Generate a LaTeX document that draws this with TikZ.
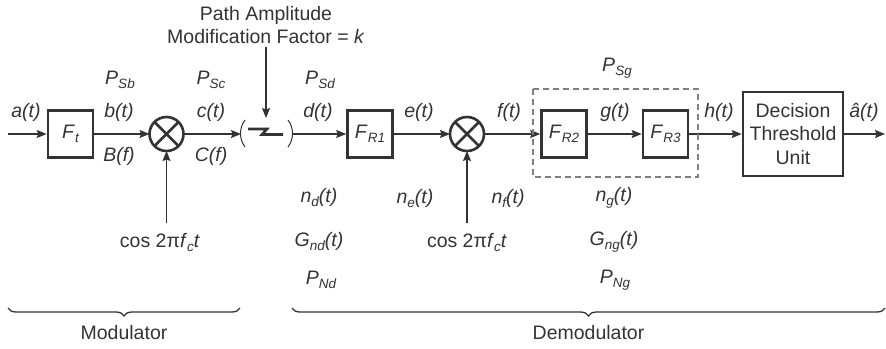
\documentclass[tikz,border=0pt]{standalone}
\usepackage{fontspec}
\setmainfont{Liberation Sans}
\usepackage{xcolor}
\usepackage{tikz}
\usetikzlibrary{arrows.meta,decorations.pathreplacing,positioning}
\definecolor{ink}{gray}{0.2}
\newcommand{\lo}[1]{\raisebox{-4pt}{\fontsize{13.5}{14}\selectfont\itshape #1}}

\begin{document}
\begin{tikzpicture}[x=1pt,y=-1pt,
  every node/.style={font=\fontsize{19.5}{23.5}\selectfont,text=ink},
  blk/.style={draw=ink,line width=2.6pt,minimum width=45pt,minimum height=47pt,inner sep=0pt},
  mix/.style={draw=ink,line width=2.6pt,circle,minimum size=34pt,inner sep=0pt,outer sep=0pt},
  arr/.style={-{Stealth[length=10pt,width=8pt,inset=1.5pt]},line width=1.1pt,draw=ink},
  brc/.style={decorate,decoration={brace,mirror,amplitude=8pt},line width=1.3pt,draw=ink}]
\useasboundingbox (0,0) rectangle (886,348);
\node[blk] (ft) at (70.5,134) {\textit{F}\lo{t}};
\node[mix] (m1) at (166.5,134) {};
\node[blk] (fr1) at (370,134) {\textit{F}\lo{R1}};
\node[mix] (m2) at (467,134) {};
\node[blk] (fr2) at (564,134) {\textit{F}\lo{R2}};
\node[blk] (fr3) at (665.5,134) {\textit{F}\lo{R3}};
\node[blk,minimum width=100pt,minimum height=84pt,align=center] (dtu) at (793,134) {Decision\\Threshold\\Unit};
\coordinate (src) at (8,134);
\coordinate (sink) at (885,134);
\coordinate (chin) at (241,134);
\coordinate (chout) at (293,134);
\coordinate (chtop) at (266,118);
\foreach\m in {m1,m2}
  \draw[ink,line width=2.6pt] (\m.north west) -- (\m.south east) (\m.north east) -- (\m.south west);
\foreach\a/\b in {src/ft,ft/m1,m1/chin,chout/fr1,fr1/m2,m2/fr2,fr2/fr3,fr3/dtu,dtu/sink}
  \draw[arr] (\a) -- (\b);
\draw[ink,line width=1pt] (245,120) .. controls (239,128) and (239,139) .. (245,147);
\draw[ink,line width=1pt] (288,120) .. controls (294,128) and (294,139) .. (288,147);
\draw[ink,line width=2.6pt] (248,129) -- (267,129) -- (262,134.5) -- (283,134.5);
\node[align=center] (pamf) at (266,25) {Path Amplitude\\Modification Factor = \textit{k}};
\draw[arr] (pamf.south) -- (chtop);
\draw[gray,line width=1.2pt,dash pattern=on 6pt off 4pt] (533,89) rectangle (698,177);
\foreach\x/\txt in {26/a,119/b,211/c,318/d,419/e,509/f,615/g,719/h}
  \node (s\txt) at (\x,112) {\textit{\txt(t)}};
\node (sahat) at (864,112) {\textit{â(t)}};
\foreach\x/\y/\sub in {120/80/Sb,211/80/Sc,320/80/Sd,617/68/Sg}
  \node (p\sub) at (\x,\y) {\textit{P}\lo{\sub}};
\node (bf) at (119,156) {\textit{B(f)}};
\node (cf) at (211,156) {\textit{C(f)}};
\foreach\x/\sub in {319/d,415/e,508/f,614/g}
  \node (n\sub) at (\x,198) {\textit{n}\lo{\sub}\textit{(t)}};
\foreach\x/\sub in {319/d,614/g}
  \node (g\sub) at (\x,242) {\textit{G}\lo{n\sub}\textit{(t)}};
\foreach\x/\sub in {321/d,615/g}
  \node (pn\sub) at (\x,280) {\textit{P}\lo{N\sub}};
\node (cos1) at (160,242) {cos 2π\textit{f}\lo{c}\textit{t}};
\node (cos2) at (467,242) {cos 2π\textit{f}\lo{c}\textit{t}};
\draw[arr] (m1.south |- 0,223) -- (m1.south);
\draw[arr] (m2.south |- 0,223) -- (m2.south);
\coordinate (mods) at (8,308);
\coordinate (mode) at (240,308);
\coordinate (dems) at (292,308);
\coordinate (deme) at (885,308);
\draw[brc] (mods) -- (mode) node[midway,below=13pt] (modl) {Modulator};
\draw[brc] (dems) -- (deme) node[midway,below=13pt] (deml) {Demodulator};
\end{tikzpicture}
\end{document}
